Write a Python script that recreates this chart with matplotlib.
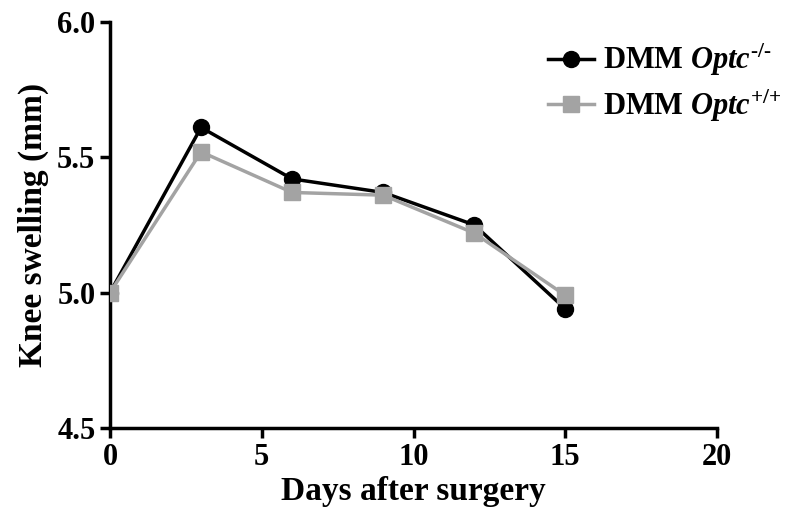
import matplotlib
matplotlib.use("Agg")
import matplotlib.pyplot as plt

days = [0, 3, 6, 9, 12, 15]
optc_ko = [5.00, 5.61, 5.42, 5.37, 5.25, 4.94]
optc_wt = [5.00, 5.52, 5.37, 5.36, 5.22, 4.99]
x_ticks = [0, 5, 10, 15, 20]
y_ticks = [4.5, 5.0, 5.5, 6.0]
y_tick_labels = ["4.5", "5.0", "5.5", "6.0"]

plt.rcParams["font.family"] = ["Liberation Serif", "DejaVu Serif"]
plt.rcParams["font.weight"] = "bold"
plt.rcParams["mathtext.fontset"] = "custom"
plt.rcParams["mathtext.rm"] = "Liberation Serif:bold"
plt.rcParams["mathtext.it"] = "Liberation Serif:italic:bold"
plt.rcParams["mathtext.bf"] = "Liberation Serif:bold"

fig = plt.figure(figsize=(8.03, 5.21), dpi=100)
ax = fig.add_axes([0.137, 0.1785, 0.756, 0.7795])

ax.plot(days, optc_ko, color="black", lw=2.5, marker="o", ms=11.5,
        label=r"DMM $\mathit{Optc}^{\text{-/-}}$", zorder=3)
ax.plot(days, optc_wt, color="#a3a3a3", lw=2.5, marker="s", ms=11.5,
        label=r"DMM $\mathit{Optc}^{\text{+/+}}$", zorder=4)

ax.set_xlim(0, 20)
ax.set_ylim(4.5, 6.0)
ax.set_xticks(x_ticks)
ax.set_yticks(y_ticks)
ax.set_yticklabels(y_tick_labels)
ax.tick_params(axis="both", labelsize=22, width=2.5, length=7, direction="out")
for lbl in ax.get_xticklabels() + ax.get_yticklabels():
    lbl.set_fontweight("bold")

for side in ("top", "right"):
    ax.spines[side].set_visible(False)
for side in ("left", "bottom"):
    ax.spines[side].set_linewidth(2.5)

ax.set_xlabel("Days after surgery", fontsize=24, fontweight="bold", labelpad=3)
ax.set_ylabel("Knee swelling (mm)", fontsize=24, fontweight="bold", labelpad=6)

leg = ax.legend(loc="upper right", bbox_to_anchor=(1.0, 0.96),
                bbox_transform=fig.transFigure, frameon=False,
                prop={"size": 22, "weight": "bold"}, handlelength=1.5,
                handletextpad=0.3, labelspacing=0.3, borderaxespad=0.3)

fig.savefig("out.png", dpi=100)
